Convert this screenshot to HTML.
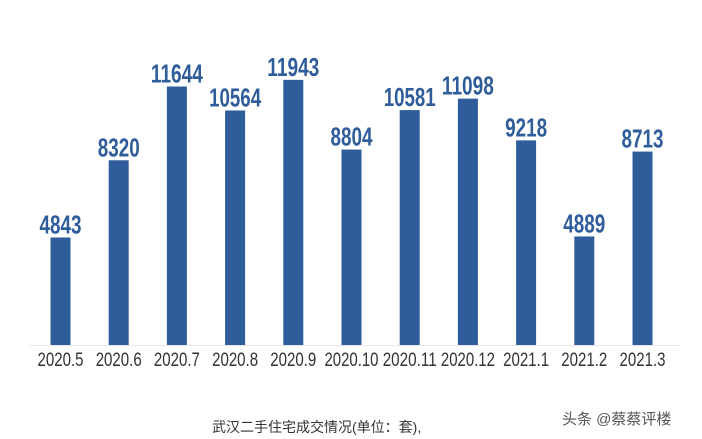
<!DOCTYPE html>
<html><head><meta charset="utf-8"><style>
body{margin:0;background:#fff;width:702px;height:439px;overflow:hidden}
svg{display:block}
.v{font-family:"Liberation Sans",sans-serif;font-weight:bold;font-size:26px;fill:#2f5c9a;text-anchor:middle}
.x{font-family:"Liberation Sans",sans-serif;font-size:19px;fill:#333;text-anchor:middle}
</style></head><body>
<svg width="702" height="439" xmlns="http://www.w3.org/2000/svg">
<line x1="30" y1="345.5" x2="680" y2="345.5" stroke="#e8e8e8" stroke-width="1"/>
<g id="bars"></g>
<text x="212" y="432" font-family="Liberation Sans,'Noto Sans CJK SC',sans-serif" font-size="14" fill="#333">武汉二手住宅成交情况(单位：套),</text>
<text x="562" y="424" font-family="Liberation Sans,'Noto Sans CJK SC',sans-serif" font-size="15" fill="#555">头条 @蔡蔡评楼</text>
</svg>
<script>
var d=[["2020.5",4843],["2020.6",8320],["2020.7",11644],["2020.8",10564],["2020.9",11943],["2020.10",8804],["2020.11",10581],["2020.12",11098],["2021.1",9218],["2021.2",4889],["2021.3",8713]];
var g=document.getElementById('bars'),s='';
d.forEach(function(e,i){var c=60.5+i*58.2,h=e[1]*0.0222,t=345-h;
var n=String(e[1]).length, w=n==5?52:42;
var lw=e[0].length>=7?54:46;
s+='<rect x="'+(c-10)+'" y="'+t+'" width="20" height="'+h+'" fill="#2f5c9a"/>';
s+='<text class="v" x="'+c+'" y="'+(t-4)+'" textLength="'+w+'" lengthAdjust="spacingAndGlyphs">'+e[1]+'</text>';
s+='<text class="x" x="'+c+'" y="366" textLength="'+lw+'" lengthAdjust="spacingAndGlyphs">'+e[0]+'</text>';});
g.innerHTML=s;
</script>
</body></html>
